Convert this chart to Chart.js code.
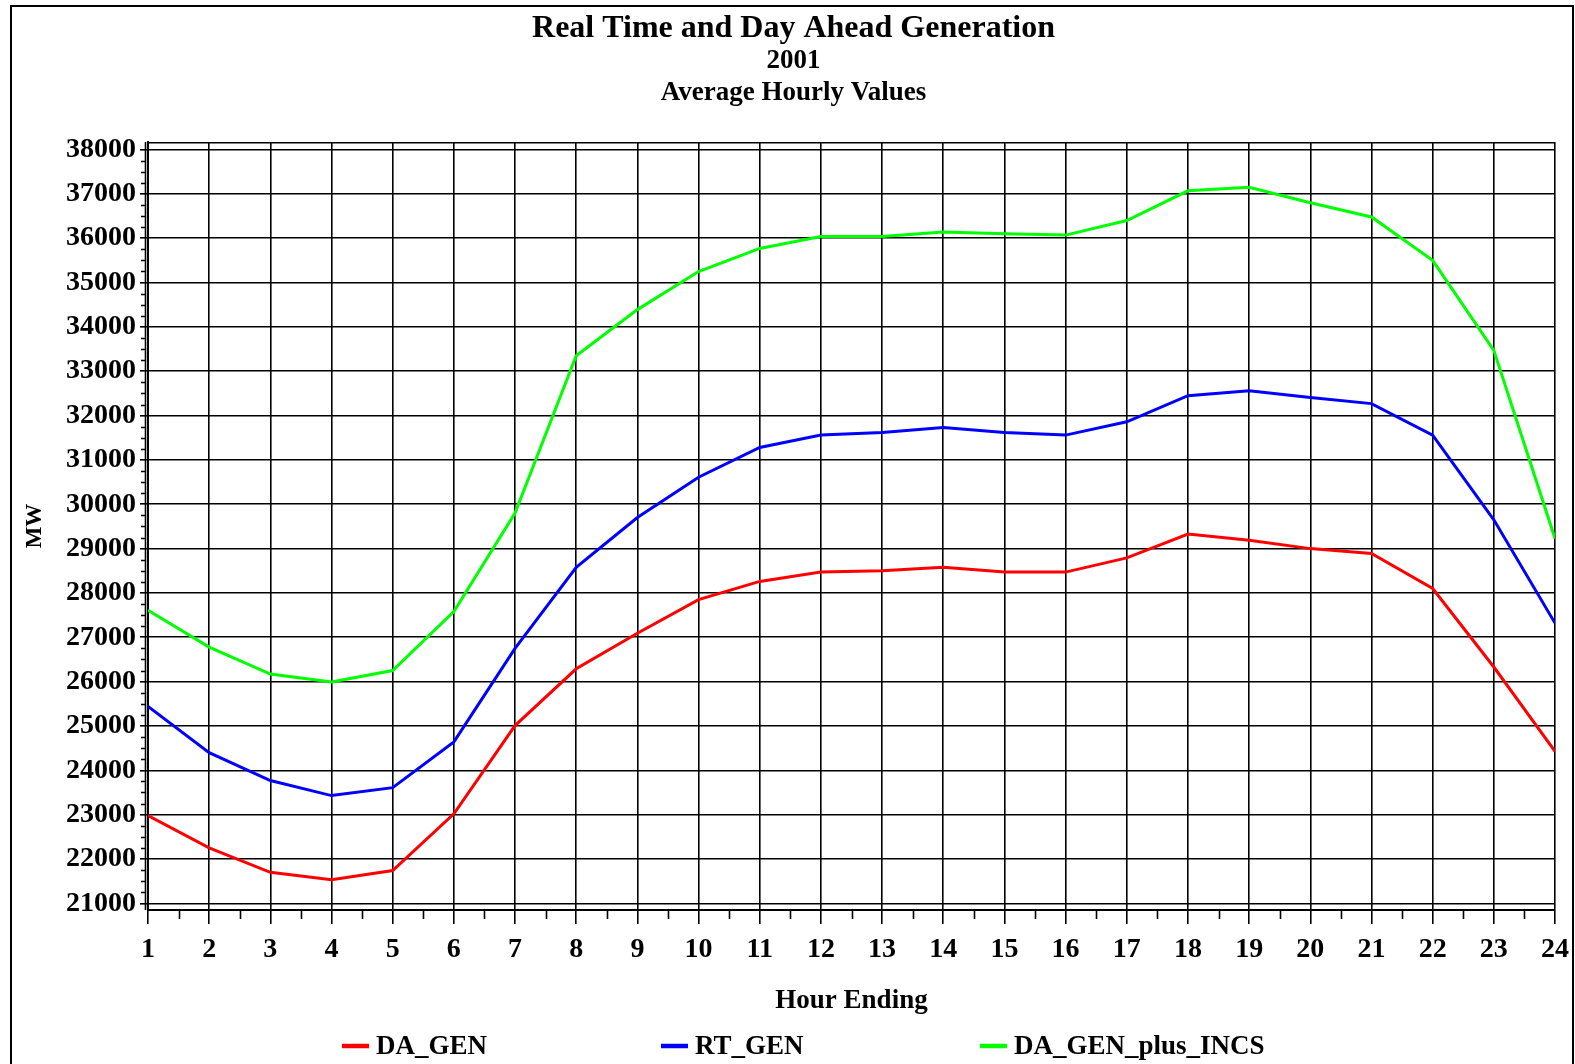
<!DOCTYPE html>
<html>
<head>
<meta charset="utf-8">
<title>Real Time and Day Ahead Generation</title>
<script src="https://cdn.jsdelivr.net/npm/chart.js"></script>
<style>
    html, body { margin: 0; padding: 0; background: #fff; }
    #wrap { position: relative; width: 1575px; height: 1064px; overflow: hidden; }
    canvas { display: block; }
</style>
</head>
<body>
<div id="wrap"><canvas id="chart" width="1575" height="1064"></canvas></div>
<script>
// hour ending 1..24, average MW per hour (2001)
const HOURS = [1, 2, 3, 4, 5, 6, 7, 8, 9, 10, 11, 12, 13, 14, 15, 16, 17, 18, 19, 20, 21, 22, 23, 24];

const DA_GEN = [22980, 22250, 21700, 21530, 21740, 23020, 25010, 26290, 27090, 27850, 28260, 28470,
    28500, 28580, 28470, 28470, 28790, 29330, 29190, 29000, 28890, 28100, 26330, 24430];

const RT_GEN = [25440, 24400, 23770, 23430, 23610, 24640, 26750, 28580, 29700, 30610, 31280, 31560,
    31620, 31730, 31620, 31560, 31860, 32450, 32560, 32410, 32270, 31560, 29650, 27320];

const DA_GEN_PLUS_INCS = [27610, 26780, 26170, 25990, 26250, 27580, 29800, 33350, 34390, 35250, 35770, 36040,
    36040, 36140, 36100, 36070, 36400, 37070, 37150, 36800, 36480, 35500, 33470, 29230];

const SERIES_LABELS = ['DA_GEN', 'RT_GEN', 'DA_GEN_plus_INCS'];
const SERIES_COLORS = ['#ff0000', '#0000ff', '#00ff00'];

const Y_TICKS = [21000, 22000, 23000, 24000, 25000, 26000, 27000, 28000, 29000,
    30000, 31000, 32000, 33000, 34000, 35000, 36000, 37000, 38000];
const Y_MIN = 20850;
const Y_MAX = 38170;
const Y_MINOR_STEP = 250;

const FONT = "'Liberation Serif', 'Times New Roman', Times, serif";

Chart.defaults.font.family = FONT;
Chart.defaults.font.weight = 'bold';
Chart.defaults.color = '#000';

const toPoints = (values) => HOURS.map((h, i) => ({ x: h, y: values[i] }));

// page frame, plot frame, inner y-axis line and the minor ticks
const framePlugin = {
    id: 'frame',
    beforeDraw(chart) {
        const ctx = chart.ctx;
        ctx.save();
        ctx.strokeStyle = '#000';
        ctx.lineWidth = 2;
        ctx.beginPath();
        ctx.moveTo(11, chart.height);
        ctx.lineTo(11, 6);
        ctx.lineTo(1573, 6);
        ctx.lineTo(1573, chart.height);
        ctx.stroke();
        ctx.restore();
    },
    afterDraw(chart) {
        const ctx = chart.ctx;
        const { left, right, top, bottom } = chart.chartArea;
        const xs = chart.scales.x;
        const ys = chart.scales.y;
        const axisX = left - 2.5;
        ctx.save();
        ctx.strokeStyle = '#000';
        ctx.lineWidth = 1.6;
        ctx.beginPath();
        ctx.moveTo(left, top + 0.8);
        ctx.lineTo(right, top + 0.8);
        ctx.moveTo(axisX, top);
        ctx.lineTo(axisX, bottom);
        for (let v = Math.ceil(ys.min / Y_MINOR_STEP) * Y_MINOR_STEP; v <= ys.max; v += Y_MINOR_STEP) {
            if (Y_TICKS.includes(v)) continue;
            const py = Math.round(ys.getPixelForValue(v)) + 0.5;
            ctx.moveTo(axisX - 4.5, py);
            ctx.lineTo(axisX, py);
        }
        for (let h = xs.min + 0.5; h < xs.max; h += 1) {
            const px = Math.round(xs.getPixelForValue(h)) + 0.5;
            ctx.moveTo(px, bottom);
            ctx.lineTo(px, bottom + 9);
        }
        ctx.stroke();
        ctx.restore();
    },
};

// SAS style legend: short thick line then label, fixed spacing
const legendPlugin = {
    id: 'sasLegend',
    afterDraw(chart) {
        const ctx = chart.ctx;
        const startX = 342;
        const step = 319;
        const y = 1046;
        ctx.save();
        ctx.font = `bold 27px ${FONT}`;
        ctx.textBaseline = 'middle';
        ctx.fillStyle = '#000';
        chart.data.datasets.forEach((ds, i) => {
            const x = startX + i * step;
            ctx.strokeStyle = ds.borderColor;
            ctx.lineWidth = 4.5;
            ctx.beginPath();
            ctx.moveTo(x, y);
            ctx.lineTo(x + 27, y);
            ctx.stroke();
            ctx.fillText(ds.label, x + 34, y + 1);
        });
        ctx.restore();
    },
};

const datasets = [DA_GEN, RT_GEN, DA_GEN_PLUS_INCS].map((values, i) => ({
    label: SERIES_LABELS[i],
    data: toPoints(values),
    borderColor: SERIES_COLORS[i],
    backgroundColor: SERIES_COLORS[i],
    borderWidth: 3,
    pointRadius: 0,
    tension: 0,
    fill: false,
}));

const gridOpts = { color: '#000', lineWidth: 1.6, tickColor: '#000' };

new Chart(document.getElementById('chart').getContext('2d'), {
    type: 'line',
    data: { datasets },
    plugins: [framePlugin, legendPlugin],
    options: {
        responsive: false,
        animation: false,
        devicePixelRatio: 1,
        layout: { padding: { left: 32, right: 20, top: 0, bottom: 50 } },
        plugins: {
            legend: { display: false },
            tooltip: { enabled: false },
            title: {
                display: true,
                text: 'Real Time and Day Ahead Generation',
                color: '#000',
                font: { size: 32, weight: 'bold', lineHeight: 1.1 },
                padding: { top: 11.4, bottom: -2 },
            },
            subtitle: {
                display: true,
                text: ['2001', 'Average Hourly Values'],
                color: '#000',
                font: { size: 27, weight: 'bold', lineHeight: 32 / 27 },
                padding: { top: 0, bottom: 33.4 },
            },
        },
        scales: {
            x: {
                type: 'linear',
                min: HOURS[0],
                max: HOURS[HOURS.length - 1],
                afterFit: (s) => {
                    s.height = 104;
                    // label "24" may hang over the right edge, as in the original
                    s.paddingRight = 0;
                },
                ticks: {
                    stepSize: 1,
                    autoSkip: false,
                    maxRotation: 0,
                    padding: 9,
                    font: { size: 28 },
                    callback: (v) => String(v),
                },
                grid: { ...gridOpts, tickLength: 14 },
                border: { color: '#000', width: 2 },
                title: {
                    display: true,
                    text: 'Hour Ending',
                    font: { size: 27 },
                    padding: { top: 0, bottom: -3 },
                },
            },
            y: {
                min: Y_MIN,
                max: Y_MAX,
                afterFit: (s) => { s.width = 116; },
                afterBuildTicks: (s) => { s.ticks = Y_TICKS.map((v) => ({ value: v })); },
                ticks: {
                    padding: 4,
                    font: { size: 28 },
                    callback: (v) => String(v),
                },
                grid: { ...gridOpts, tickLength: 8 },
                border: { color: '#000', width: 2 },
                title: {
                    display: true,
                    text: 'MW',
                    font: { size: 23 },
                    padding: { top: -11, bottom: 0 },
                },
            },
        },
    },
});
</script>
</body>
</html>
